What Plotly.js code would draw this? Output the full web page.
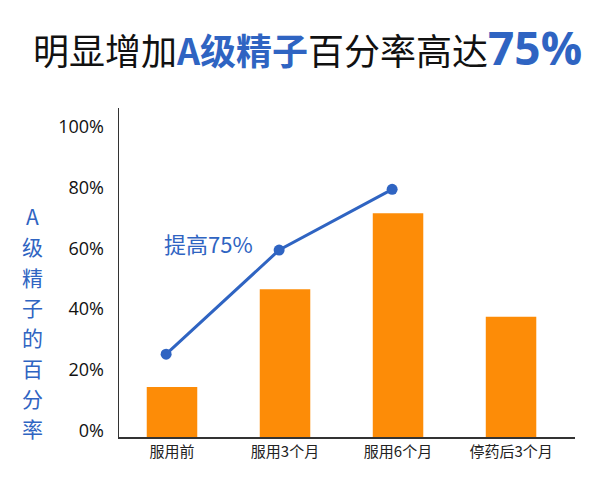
<!DOCTYPE html>
<html>
<head>
<meta charset="utf-8">
<script src="https://cdn.plot.ly/plotly-3.0.1.min.js"></script>
<style>html,body{margin:0;padding:0;background:#fff;}#chart{width:600px;height:487px;}</style>
</head>
<body>
<div id="chart"></div>
<script>
// Data
const categories = ['服用前', '服用3个月', '服用6个月', '停药后3个月'];
const barValues = [16.5, 48.7, 73.7, 39.6];
const lineCategories = ['服用前', '服用3个月', '服用6个月'];
const lineValues = [27.3, 61.6, 81.6];
const yTickVals = [0, 20, 40, 60, 80, 100];
const yTickText = ['0%', '20%', '40%', '60%', '80%', '100%'];
const yTitleChars = ['A', '级', '精', '子', '的', '百', '分', '率'];

const BLUE = '#2f64c2';
const ORANGE = '#fd8c07';
const CJK = '"Noto Sans CJK SC", "Open Sans", sans-serif';

const traces = [
  {
    type: 'bar', x: categories, y: barValues,
    marker: {color: ORANGE}, width: 0.447,
    hoverinfo: 'skip'
  },
  {
    type: 'scatter', mode: 'lines+markers', x: lineCategories, y: lineValues,
    xaxis: 'x2',
    line: {color: BLUE, width: 3},
    marker: {color: BLUE, size: 11},
    hoverinfo: 'skip'
  },
  // invisible trace that activates the label axis
  {type: 'scatter', x: [categories[0]], y: [null], yaxis: 'y2', hoverinfo: 'skip', showlegend: false}
];

// vertical y-axis title, one character per line
const yTitleAnns = yTitleChars.map((ch, i) => ({
  text: ch, xref: 'paper', yref: 'paper',
  x: (32 - 119) / 456, y: (436.7 - (216 + i * 30.3)) / 328.7,
  xanchor: 'center', yanchor: 'middle', showarrow: false,
  font: {family: CJK, size: 21, color: BLUE}
}));

const layout = {
  width: 600, height: 487,
  margin: {l: 119, r: 25, t: 108, b: 50},
  paper_bgcolor: '#ffffff', plot_bgcolor: '#ffffff',
  showlegend: false,
  title: {
    text: '明显增加<span style="color:' + BLUE + ';font-weight:bold">A级精子</span>百分率高达<span style="color:' + BLUE + ';font-weight:bold;font-family:Open Sans;font-size:46px">75%</span>',
    font: {family: CJK, size: 36, color: '#111111'},
    x: 0.5125, xanchor: 'center', xref: 'container',
    y: 0.893, yanchor: 'middle', yref: 'container'
  },
  xaxis: {
    type: 'category', categoryorder: 'array', categoryarray: categories,
    range: [-0.469, 3.566],
    showline: true, linecolor: '#333333', linewidth: 1.5,
    showgrid: false, zeroline: false, ticks: '',
    tickfont: {family: CJK, size: 15, color: '#222222'},
    ticklabelstandoff: 0
  },
  xaxis2: {
    type: 'category', categoryorder: 'array', categoryarray: categories,
    overlaying: 'x', range: [-0.417, 3.618], visible: false
  },
  yaxis: {
    range: [0, 108.4],
    showticklabels: false,
    showline: true, linecolor: '#333333', linewidth: 1.5,
    showgrid: false, zeroline: false, ticks: ''
  },
  yaxis2: {
    overlaying: 'y', side: 'left',
    range: [-2.21, 106.19],
    tickvals: yTickVals, ticktext: yTickText,
    showline: false, showgrid: false, zeroline: false, ticks: '',
    tickfont: {family: '"Open Sans", sans-serif', size: 18, color: '#111111'},
    ticklabelstandoff: 14
  },
  annotations: [
    {
      text: '提高75%', xref: 'paper', yref: 'paper',
      x: (208 - 119) / 456, y: (436.7 - 243) / 328.7,
      xanchor: 'center', yanchor: 'middle', showarrow: false,
      font: {family: CJK, size: 22, color: BLUE}
    }
  ].concat(yTitleAnns)
};

Plotly.newPlot('chart', traces, layout, {displayModeBar: false, staticPlot: true});
</script>
</body>
</html>
